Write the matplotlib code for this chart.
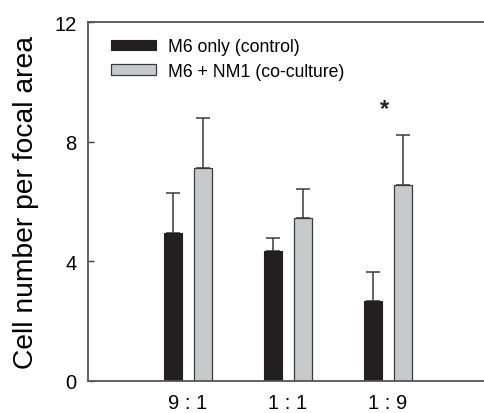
import numpy as np
import matplotlib.pyplot as plt

plt.rcParams['font.family'] = ['Liberation Sans', 'DejaVu Sans']

# valores
categorias = ['9 : 1', '1 : 1', '1 : 9']
controle = [4.94, 4.35, 2.68]
controle_erro = [1.33, 0.42, 0.95]
cocultura = [7.12, 5.44, 6.55]
cocultura_erro = [1.66, 0.97, 1.68]
asterisco_y = 9.1

fig = plt.figure(figsize=(4.85, 4.14), dpi=100)
ax = fig.add_axes([0.1814, 0.078, 0.845, 0.8657])

x = np.arange(1, len(categorias) + 1)
largura = 0.183
cor_linha = '#3a3a3a'

ax.bar(x - 0.15, controle, largura, color='#231f20', edgecolor='#231f20', linewidth=0.8,
       label='M6 only (control)', zorder=2)
ax.bar(x + 0.15, cocultura, largura, color='#c8c9cb', edgecolor='#3a3a3a', linewidth=0.9,
       label='M6 + NM1 (co-culture)', zorder=2)
ax.errorbar(x - 0.15, controle, yerr=[np.zeros(3), controle_erro], fmt='none',
            ecolor=cor_linha, elinewidth=1.1, capsize=5, capthick=1.1, zorder=1)
ax.errorbar(x + 0.15, cocultura, yerr=[np.zeros(3), cocultura_erro], fmt='none',
            ecolor=cor_linha, elinewidth=1.1, capsize=5, capthick=1.1, zorder=1)

ax.text(2.97, asterisco_y, '*', ha='center', va='center', fontsize=17, fontweight='bold', color='#222222')

# eixo x um pouco além da borda direita (a referência corta a caixa)
ax.set_xlim(0, 4.1)
ax.set_ylim(0, 12)
ax.set_yticks([0, 4, 8, 12])
ax.set_xticks(x)
ax.set_xticklabels(categorias)
ax.tick_params(axis='y', direction='in', length=4, width=1, color=cor_linha, labelsize=14.5, pad=8)
ax.tick_params(axis='x', length=0, labelsize=14.5, pad=9)
for lado in ['left', 'bottom', 'top']:
    ax.spines[lado].set_color('#555555')
    ax.spines[lado].set_linewidth(1.3)
ax.spines['right'].set_visible(False)

ax.set_ylabel('Cell number per focal area', fontsize=20.3, labelpad=11)

ax.legend(loc='upper left', bbox_to_anchor=(0.04, 0.975), frameon=False, fontsize=12.7,
          handlelength=2.5, handleheight=0.55, handletextpad=0.7, labelspacing=0.42,
          borderaxespad=0)

fig.savefig('out.png', dpi=100)
